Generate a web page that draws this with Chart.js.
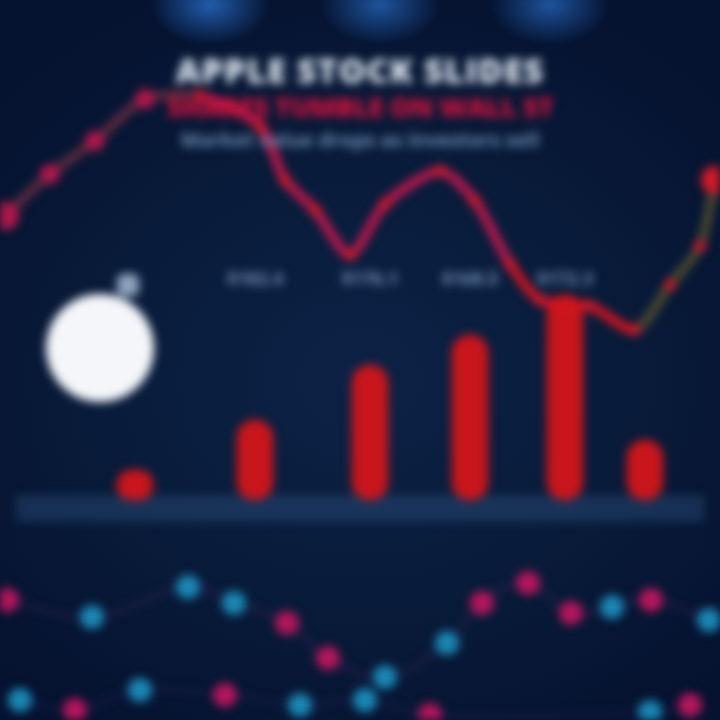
<!DOCTYPE html>
<html>
<head>
<meta charset="utf-8">
<script src="https://cdn.jsdelivr.net/npm/chart.js@4.4.1/dist/chart.umd.min.js"></script>
<style>
  html, body { margin: 0; padding: 0; }
  body {
    width: 720px; height: 720px; overflow: hidden;
    background:
      radial-gradient(ellipse 60px 40px at 210px 5px, rgba(40,110,200,0.8), rgba(40,110,200,0) 100%),
      radial-gradient(ellipse 60px 40px at 380px 5px, rgba(40,110,200,0.7), rgba(40,110,200,0) 100%),
      radial-gradient(ellipse 60px 40px at 550px 5px, rgba(40,110,200,0.7), rgba(40,110,200,0) 100%),
      radial-gradient(ellipse 500px 420px at 360px 380px, #0c2246 0%, #081a38 60%, #051230 100%);
    font-family: "Open Sans", "DejaVu Sans", sans-serif;
  }
  #wrap { position: relative; width: 720px; height: 720px; filter: blur(5px); }
  #headline { position: absolute; left: 0; top: 50px; width: 720px; text-align: center; }
  #headline .t1 { color: #dfe8f2; font-size: 34px; font-weight: 800; letter-spacing: 1px; line-height: 40px; }
  #headline .t2 { color: #d0123c; font-size: 27px; font-weight: 800; line-height: 34px; letter-spacing: -0.5px; }
  #headline .t3 { color: #6f8db3; font-size: 20px; font-weight: 700; line-height: 32px; }
  canvas { position: absolute; left: 0; top: 0; }
</style>
</head>
<body>
<div id="wrap">
  <canvas id="stockChart" width="720" height="720"></canvas>
  <div id="headline">
    <div class="t1">APPLE STOCK SLIDES</div>
    <div class="t2">SHARES TUMBLE ON WALL ST</div>
    <div class="t3">Market value drops as investors sell</div>
  </div>
</div>
<script>
// 出来高バー
var barX = [6.75, 12.75, 18.5, 23.5, 28.25, 32.25];
var barVolume = [3, 8, 13.5, 16.5, 20.5, 6];
var barLabels = ['', '$182.4', '$176.1', '$168.5', '$172.3', ''];

// 株価ライン（上段）
var priceX = [0.25, 2.5, 4.75, 7.25, 10, 13, 14.25, 15.75, 17.5, 19.25, 22, 23.75, 25.5, 27, 29.5, 31.75, 33.5, 35, 35.75];
var priceY = [168, 182, 193, 207, 208, 198, 180, 170, 155, 172, 183, 173, 152, 140, 138, 130, 145, 158, 180];

// 下段の波線（2本）
var waveAX = [0.35, 4.6, 9.4, 11.7, 14.35, 16.4, 19.25, 22.35, 24.1, 26.4, 28.55, 30.6, 32.55, 35.45];
var waveAY = [12, 10.3, 13.3, 11.7, 9.7, 6.2, 4.3, 7.7, 11.7, 13.7, 10.7, 11.3, 12, 10];
var waveAColors = ['p', 'c', 'c', 'c', 'p', 'p', 'c', 'c', 'p', 'p', 'p', 'c', 'p', 'c'];
var waveBX = [1, 3.75, 7, 11.25, 15, 18.25, 21.5, 32.5, 34.5];
var waveBY = [2, 1, 3, 2.5, 1.5, 2, 0.5, 0.8, 1.5];
var waveBColors = ['c', 'p', 'c', 'p', 'c', 'c', 'p', 'c', 'p'];

// ロゴ（白い丸と軸）
var logoX = [5, 6.4];
var logoY = [124, 145];

var PINK = '#b3165c';
var CYAN = '#1b86b3';

function dotColors(list) {
  return list.map(function(c) { return c === 'p' ? PINK : CYAN; });
}

// 株価ラインの区間ごとの色
function segmentColor(ctx) {
  var i = ctx.p0DataIndex;
  if (i < 4) return '#5e2a40';
  if (i >= 15) return '#4d4a30';
  if (i >= 12) return '#d8141f';
  return '#c2184e';
}

// ベースラインの帯と棒上ラベル
var decorPlugin = {
  id: 'decor',
  beforeDatasetsDraw: function(chart) {
    var ctx = chart.ctx;
    var y0 = chart.scales.yVol.getPixelForValue(0.5);
    var y1 = chart.scales.yVol.getPixelForValue(-2.2);
    var x0 = chart.scales.x.getPixelForValue(0.8);
    var x1 = chart.scales.x.getPixelForValue(35.2);
    ctx.save();
    ctx.fillStyle = 'rgba(60,100,150,0.32)';
    ctx.fillRect(x0, y0, x1 - x0, y1 - y0);
    ctx.restore();
  },
  afterDatasetsDraw: function(chart) {
    var ctx = chart.ctx;
    var meta = chart.getDatasetMeta(0);
    var ly = chart.scales.yVol.getPixelForValue(22);
    ctx.save();
    ctx.fillStyle = '#7390b5';
    ctx.font = 'bold 18px "Open Sans", sans-serif';
    ctx.textAlign = 'center';
    ctx.textBaseline = 'middle';
    meta.data.forEach(function(bar, i) {
      ctx.fillText(barLabels[i], bar.x, ly);
    });
    ctx.restore();
  }
};

var ctx = document.getElementById('stockChart').getContext('2d');
new Chart(ctx, {
  type: 'bar',
  data: {
    datasets: [
      {
        type: 'bar',
        data: barX.map(function(x, i) { return { x: x, y: barVolume[i] }; }),
        xAxisID: 'x',
        yAxisID: 'yVol',
        backgroundColor: '#c8161c',
        barThickness: 36,
        borderRadius: 18,
        borderSkipped: false,
        order: 3
      },
      {
        type: 'line',
        data: priceX.map(function(x, i) { return { x: x, y: priceY[i] }; }),
        xAxisID: 'x',
        yAxisID: 'yPrice',
        borderColor: '#c2184e',
        segment: { borderColor: segmentColor },
        borderWidth: 9,
        tension: 0.25,
        pointRadius: priceX.map(function(x, i) {
          if (i === 0 || i === priceX.length - 1) return 14;
          return i < 4 ? 10 : 6;
        }),
        pointBackgroundColor: priceX.map(function(x, i) { return i < 4 ? '#b0184a' : '#d51a2a'; }),
        pointBorderWidth: 0,
        order: 1
      },
      {
        type: 'line',
        data: waveAX.map(function(x, i) { return { x: x, y: waveAY[i] }; }),
        xAxisID: 'x',
        yAxisID: 'yLow',
        borderColor: 'rgba(90,40,110,0.35)',
        borderWidth: 4,
        tension: 0.4,
        pointRadius: 12,
        pointBackgroundColor: dotColors(waveAColors),
        pointBorderWidth: 0,
        order: 2
      },
      {
        type: 'line',
        data: waveBX.map(function(x, i) { return { x: x, y: waveBY[i] }; }),
        xAxisID: 'x',
        yAxisID: 'yLow',
        borderColor: 'rgba(60,40,110,0.3)',
        borderWidth: 4,
        tension: 0.4,
        pointRadius: 12,
        pointBackgroundColor: dotColors(waveBColors),
        pointBorderWidth: 0,
        order: 2
      },
      {
        type: 'scatter',
        data: logoX.map(function(x, i) { return { x: x, y: logoY[i] }; }),
        xAxisID: 'x',
        yAxisID: 'yPrice',
        pointStyle: ['circle', 'rectRounded'],
        pointRadius: [54, 13],
        pointBackgroundColor: ['#f4f6fa', '#8fa4be'],
        pointBorderWidth: 0,
        order: 0
      }
    ]
  },
  options: {
    responsive: false,
    animation: false,
    layout: { padding: 0, autoPadding: false },
    scales: {
      x: { type: 'linear', min: 0, max: 36, offset: false, display: false },
      yPrice: { type: 'linear', min: 0, max: 240, display: false },
      yVol: { type: 'linear', min: -22, max: 50, display: false },
      yLow: { type: 'linear', min: 0, max: 72, display: false }
    },
    plugins: {
      legend: { display: false },
      tooltip: { enabled: false }
    }
  },
  plugins: [decorPlugin]
});
</script>
</body>
</html>
